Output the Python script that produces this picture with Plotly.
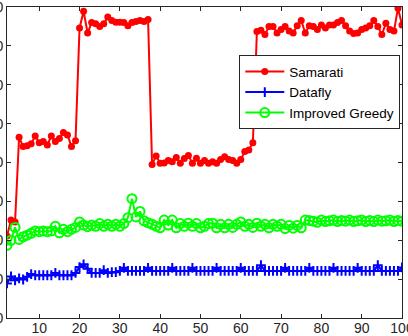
import plotly.graph_objects as go

k_values = list(range(2, 101))

samarati = [21.1, 25.2, 24.7, 46.5, 44.1, 44.3, 44.8, 46.8, 45.1, 45.4,
            44.5, 46.8, 45.4, 46.2, 47.7, 47.1, 44.1, 45.6, 74.6, 78.9,
            73.3, 76.0, 75.7, 75.0, 75.7, 77.4, 76.5, 76.1, 76.1, 76.0,
            75.2, 76.0, 76.3, 76.5, 76.3, 76.8, 39.5, 41.7, 39.8, 39.9,
            40.5, 40.2, 41.3, 39.8, 41.0, 41.8, 39.8, 41.1, 39.8, 40.5,
            39.8, 40.2, 39.8, 40.8, 41.5, 40.8, 40.5, 39.8, 40.8, 42.8,
            43.2, 45.1, 73.7, 74.0, 72.9, 75.0, 75.0, 73.3, 74.2, 75.0,
            73.8, 73.3, 75.2, 76.5, 73.3, 75.2, 75.0, 74.2, 75.4, 74.6,
            75.4, 75.4, 76.0, 76.5, 75.2, 73.8, 73.2, 73.3, 74.2, 74.6,
            75.2, 76.5, 75.0, 72.9, 75.8, 74.2, 73.8, 79.7, 75.4]

datafly = [8.9, 10.7, 9.7, 10.2, 9.9, 10.6, 11.3, 11.0, 11.0, 11.0,
           11.0, 11.0, 11.6, 11.0, 11.0, 11.0, 11.0, 11.6, 13.1, 13.8,
           12.7, 11.6, 11.6, 11.6, 12.3, 11.6, 11.8, 11.8, 12.1, 12.9,
           12.1, 12.1, 12.1, 12.1, 12.1, 12.9, 12.1, 12.1, 12.1, 12.1,
           12.1, 12.9, 12.1, 12.1, 12.1, 12.1, 12.9, 12.1, 12.1, 12.1,
           12.1, 12.1, 12.9, 12.1, 12.1, 12.1, 12.1, 12.1, 12.9, 12.1,
           12.1, 12.1, 12.1, 13.6, 12.1, 12.1, 12.1, 12.1, 12.1, 12.9,
           12.1, 12.1, 12.1, 12.1, 12.1, 12.9, 12.1, 12.1, 12.1, 12.1,
           12.1, 12.9, 12.1, 12.1, 12.1, 12.1, 12.1, 12.9, 12.1, 12.1,
           12.1, 12.1, 13.6, 12.1, 12.1, 12.1, 12.1, 12.1, 13.0]

improved_greedy = [18.7, 20.0, 23.3, 20.2, 20.9, 21.3, 21.8, 22.4, 22.2, 22.4,
                   22.2, 22.4, 23.6, 21.9, 22.8, 22.2, 22.8, 23.3, 24.7, 23.9,
                   23.5, 23.9, 23.6, 24.3, 23.6, 24.1, 23.6, 24.1, 23.6, 24.3,
                   25.8, 30.7, 26.0, 27.4, 25.0, 24.5, 24.1, 23.6, 23.2, 25.2,
                   23.9, 25.2, 23.2, 24.3, 23.6, 24.4, 23.6, 24.3, 23.2, 23.6,
                   24.3, 24.4, 23.2, 24.1, 23.2, 24.1, 23.3, 24.1, 24.7, 23.6,
                   24.1, 23.3, 24.4, 23.6, 24.1, 23.2, 24.1, 23.6, 24.1, 23.0,
                   23.8, 23.1, 23.8, 23.2, 25.2, 25.1, 24.9, 24.6, 25.2, 24.8,
                   25.0, 25.2, 24.8, 25.1, 24.9, 25.2, 24.8, 25.0, 25.2, 24.8,
                   25.1, 24.8, 25.2, 24.9, 25.0, 25.2, 24.8, 25.1, 24.9]

x_ticks = [10, 20, 30, 40, 50, 60, 70, 80, 90, 100]
y_ticks = [0, 10, 20, 30, 40, 50, 60, 70, 80]

fig = go.Figure()
fig.add_trace(go.Scatter(
    x=k_values, y=samarati, name="Samarati", mode="lines+markers",
    line=dict(color="#ff0000", width=2),
    marker=dict(symbol="circle", size=7, color="#ff0000")))
fig.add_trace(go.Scatter(
    x=k_values, y=datafly, name="Datafly", mode="lines+markers",
    line=dict(color="#0000ff", width=2),
    marker=dict(symbol="cross-thin", size=7, color="#0000ff",
                line=dict(color="#0000ff", width=2))))
fig.add_trace(go.Scatter(
    x=k_values, y=improved_greedy, name="Improved Greedy", mode="lines+markers",
    line=dict(color="#00ff00", width=2),
    marker=dict(symbol="circle-open", size=9, color="#00ff00",
                line=dict(color="#00ff00", width=2))))

axis_common = dict(
    showgrid=False, zeroline=False, showline=True, linecolor="#262626",
    linewidth=1, mirror="ticks", ticks="inside", ticklen=4, tickwidth=1,
    tickcolor="#262626", automargin=False, ticklabeloverflow="allow",
    tickfont=dict(family="Liberation Sans, Arial", size=14, color="#262626"),
)

fig.update_xaxes(range=[2, 100], tickvals=x_ticks, ticklabelstandoff=-3, **axis_common)
fig.update_yaxes(range=[0, 80], tickvals=y_ticks, **axis_common)

fig.update_layout(
    width=408, height=336, autosize=False,
    margin=dict(l=7, r=6, t=7, b=18, pad=0),
    paper_bgcolor="white", plot_bgcolor="white",
    font=dict(family="Liberation Sans, Arial", size=14, color="#000000"),
    legend=dict(x=0.9957, y=0.845, xanchor="right", yanchor="top",
                bgcolor="white", bordercolor="#262626", borderwidth=1,
                itemwidth=39, font=dict(size=13.5, color="#000000")),
    showlegend=True,
)

fig.write_html("out.html")
